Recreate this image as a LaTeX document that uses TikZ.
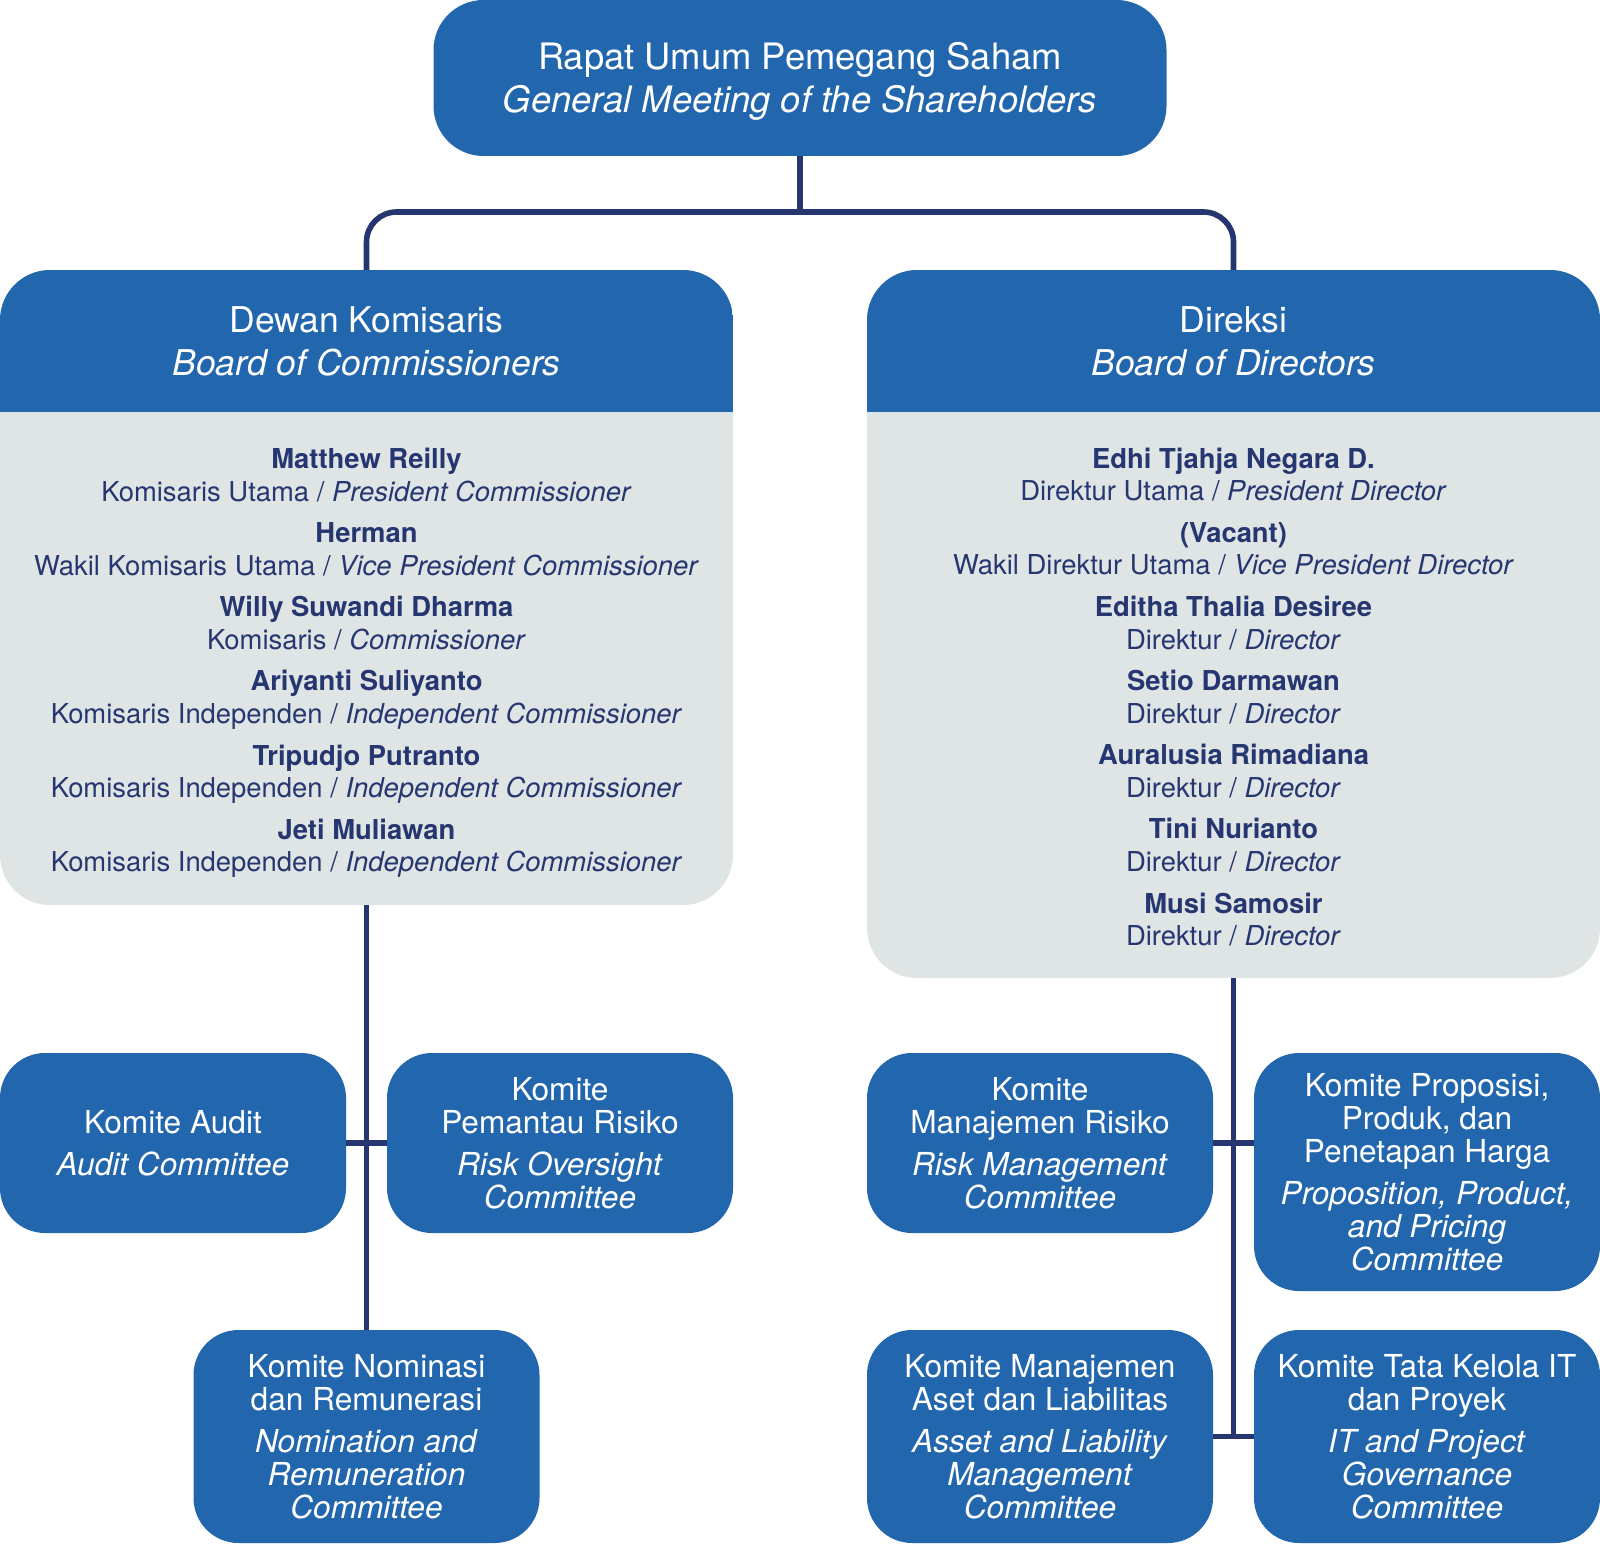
\documentclass[tikz,border=0pt]{standalone}
\usepackage{fontspec}
\setmainfont{TeX Gyre Heros}
\usetikzlibrary{positioning}

\definecolor{orgblue}{HTML}{2266AD}
\definecolor{orggray}{HTML}{DFE4E4}
\definecolor{orgnavy}{HTML}{263671}

\newcommand{\mbr}[3]{\textbf{#1}\\#2 / \textit{#3}}

\tikzset{
  unit/.style={rectangle, rounded corners=0.45cm, fill=orgblue, text=white, align=center, inner sep=0pt, outer sep=0pt},
  board/.style={rectangle, rounded corners=0.5cm, fill=orggray, minimum width=7.33cm, inner sep=0pt, outer sep=0pt},
  headtext/.style={text=white, align=center, inner sep=0pt, font=\fontsize{10.1}{12.2}\selectfont},
  cmte/.style={unit, minimum width=3.46cm, minimum height=1.80cm, font=\fontsize{9}{9.4}\selectfont},
  members/.style={align=center, text=orgnavy, inner sep=0pt, font=\fontsize{7.8}{9.3}\selectfont},
  link/.style={draw=orgnavy, line width=1.6pt},
}

\begin{document}
\begin{tikzpicture}
\useasboundingbox (0,0) rectangle (16,-15.45);

% RUPS
\node[unit, rounded corners=0.5cm, minimum width=7.33cm, minimum height=1.56cm] (rups) at (8,-0.78) {};
\node[headtext, font=\fontsize{10.35}{12.2}\selectfont] (rupstext) at (8,-0.81)
  {Rapat Umum Pemegang Saham\\\textit{General Meeting of the Shareholders}};

% boards
\node[board, minimum height=6.35cm, anchor=north] (boc) at (3.665,-2.70) {};
\node[board, minimum height=7.08cm, anchor=north] (bod) at (12.335,-2.70) {};

\begin{scope}
\clip[rounded corners=0.5cm] (boc.south west) rectangle (boc.north east);
\fill[orgblue] (boc.north west) rectangle ([yshift=-1.42cm]boc.north east);
\end{scope}
\begin{scope}
\clip[rounded corners=0.5cm] (bod.south west) rectangle (bod.north east);
\fill[orgblue] (bod.north west) rectangle ([yshift=-1.42cm]bod.north east);
\end{scope}

\node[headtext] (bochead) at ([yshift=-0.71cm]boc.north) {Dewan Komisaris\\\textit{Board of Commissioners}};
\node[headtext] (bodhead) at ([yshift=-0.71cm]bod.north) {Direksi\\\textit{Board of Directors}};

\node[members] (bocmembers) at (3.665,-6.63) {%
  \mbr{Matthew Reilly}{Komisaris Utama}{President Commissioner}\\[2.5pt]
  \mbr{Herman}{Wakil Komisaris Utama}{Vice President Commissioner}\\[2.5pt]
  \mbr{Willy Suwandi Dharma}{Komisaris}{Commissioner}\\[2.5pt]
  \mbr{Ariyanti Suliyanto}{Komisaris Independen}{Independent Commissioner}\\[2.5pt]
  \mbr{Tripudjo Putranto}{Komisaris Independen}{Independent Commissioner}\\[2.5pt]
  \mbr{Jeti Muliawan}{Komisaris Independen}{Independent Commissioner}};

\node[members] (bodmembers) at (12.335,-6.97) {%
  \mbr{Edhi Tjahja Negara D.}{Direktur Utama}{President Director}\\[2.5pt]
  \mbr{(Vacant)}{Wakil Direktur Utama}{Vice President Director}\\[2.5pt]
  \mbr{Editha Thalia Desiree}{Direktur}{Director}\\[2.5pt]
  \mbr{Setio Darmawan}{Direktur}{Director}\\[2.5pt]
  \mbr{Auralusia Rimadiana}{Direktur}{Director}\\[2.5pt]
  \mbr{Tini Nurianto}{Direktur}{Director}\\[2.5pt]
  \mbr{Musi Samosir}{Direktur}{Director}};

% committees under the commissioners
\node[cmte, anchor=north west] (aud) at (0,-10.53) {Komite Audit\\[2.5pt]\textit{Audit Committee}};
\node[cmte, right=0.41cm of aud] (ros) {Komite\\Pemantau Risiko\\[2.5pt]\textit{Risk Oversight}\\\textit{Committee}};
\node[cmte, minimum height=2.13cm, anchor=north] (nom) at (3.665,-13.30)
  {Komite Nominasi\\dan Remunerasi\\[2.5pt]\textit{Nomination and}\\\textit{Remuneration}\\\textit{Committee}};

% committees under the directors
\node[cmte, anchor=north west] (rmc) at (8.67,-10.53) {Komite\\Manajemen Risiko\\[2.5pt]\textit{Risk Management}\\\textit{Committee}};
\node[cmte, minimum height=2.38cm, right=0.41cm of rmc.north east, anchor=north west] (ppp)
  {Komite Proposisi,\\Produk, dan\\Penetapan Harga\\[2.5pt]\textit{Proposition, Product,}\\\textit{and Pricing}\\\textit{Committee}};
\node[cmte, minimum height=2.13cm, anchor=north west] (alm) at (8.67,-13.30)
  {Komite Manajemen\\Aset dan Liabilitas\\[2.5pt]\textit{Asset and Liability}\\\textit{Management}\\\textit{Committee}};
\node[cmte, minimum height=2.13cm, right=0.41cm of alm] (itp)
  {Komite Tata Kelola IT\\dan Proyek\\[2.5pt]\textit{IT and Project}\\\textit{Governance}\\\textit{Committee}};

% connectors
\draw[link] (rups.south) -- ++(0,-0.56) coordinate (fork);
\draw[link, rounded corners=0.3cm] (boc.north) |- (fork) -| (bod.north);
\draw[link] (boc.south) -- (nom.north);
\draw[link] (aud.east) -- (ros.west);
\draw[link] (bod.south) -- (bod.south |- alm.east);
\draw[link] (rmc.east) -- (rmc.east -| ppp.west);
\draw[link] (alm.east) -- (itp.west);
\end{tikzpicture}
\end{document}
